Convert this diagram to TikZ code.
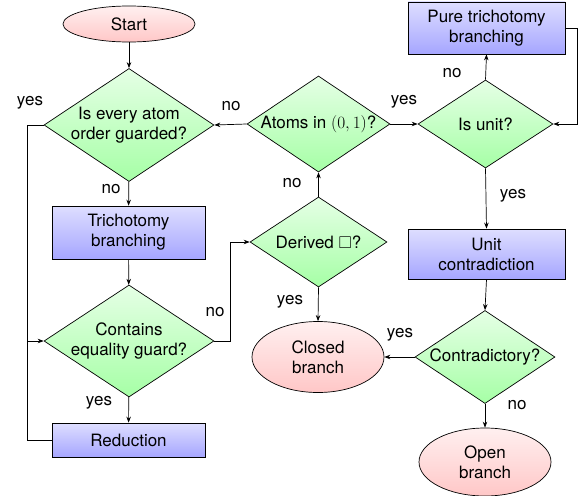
\documentclass[tikz,border=0pt]{standalone}
\usepackage{amssymb}
\usepackage{fontspec}
\setmainfont{TeX Gyre Heros}
\usetikzlibrary{shapes.geometric,arrows.meta}
\begin{document}
\begin{tikzpicture}[x=1pt,y=1pt,
  every node/.style={font=\fontsize{17}{20}\selectfont},
  term/.style={ellipse, draw, line width=0.7pt, inner sep=0pt, top color=red!6, bottom color=red!22},
  proc/.style={rectangle, draw, line width=0.7pt, inner sep=0pt, top color=blue!13, bottom color=blue!35},
  dec/.style={diamond, draw, line width=0.7pt, inner sep=0pt, top color=green!10, bottom color=green!35},
  txt/.style={align=center, inner sep=0pt},
  lbl/.style={inner sep=0pt},
  conn/.style={draw, line width=0.7pt, -{Stealth[length=6pt,width=4.5pt]}},
  plain/.style={draw, line width=0.7pt}]
\useasboundingbox (0,0) rectangle (583,-495);

\node[term, minimum width=132, minimum height=36] (start) at (129,-24) {};
\node[txt] (startt) at (start) {Start};

\node[dec, minimum width=170, minimum height=113] (d1) at (129,-125) {};
\node[txt] (d1t) at (d1) {Is every atom\\order guarded?};

\node[proc, minimum width=153, minimum height=53] (tri) at (128.5,-232.5) {};
\node[txt] (trit) at (tri) {Trichotomy\\branching};

\node[dec, minimum width=170, minimum height=112] (d2) at (129,-341) {};
\node[txt] (d2t) at (d2) {Contains\\equality guard?};

\node[proc, minimum width=153, minimum height=34] (red) at (128.5,-440) {};
\node[txt] (redt) at (red) {Reduction};

\node[dec, minimum width=143, minimum height=96] (atoms) at (318.5,-124) {};
\node[txt] (atomst) at (atoms) {Atoms in $(0,1)$?};

\node[dec, minimum width=135, minimum height=88] (unit) at (485.5,-124) {};
\node[txt] (unitt) at (unit) {Is unit?};

\node[proc, minimum width=157, minimum height=52] (pure) at (486.5,-28) {};
\node[txt] (puret) at (pure) {Pure trichotomy\\branching};

\node[proc, minimum width=157, minimum height=50] (uc) at (486.5,-254) {};
\node[txt] (uct) at (uc) {Unit\\contradiction};

\node[dec, minimum width=137, minimum height=90] (der) at (318.5,-242) {};
\node[txt] (dert) at (der) {Derived $\square$?};

\node[term, minimum width=132, minimum height=71] (closed) at (318,-357) {};
\node[txt] (closedt) at (closed) {Closed\\branch};

\node[dec, minimum width=140, minimum height=93] (contra) at (485,-357) {};
\node[txt] (contrat) at (contra) {Contradictory?};

\node[term, minimum width=132, minimum height=68] (open) at (485,-462) {};
\node[txt] (opent) at (open) {Open\\branch};

\coordinate (cl1) at (27,-125);
\coordinate (cl2) at (27,-440);
\coordinate (cr1) at (230,-341);
\coordinate (cr2) at (577,-28);

\path[conn] (start) -- (d1);
\path[conn] (d1) -- (tri);
\path[conn] (tri) -- (d2);
\path[conn] (d2) -- (red);
\path[conn] (d1.west) -- (cl1) |- (d2.west);
\path[plain] (red.west) -- (cl2) -- (cl2 |- d2.west);
\path[conn] (atoms.west) -- (d1.east);
\path[conn] (atoms.east) -- (unit.west);
\path[conn] (unit.north) -- (pure.south);
\path[conn] (pure.east) -- (cr2) |- (unit.east);
\path[conn] (unit.south) -- (uc.north);
\path[conn] (uc.south) -- (contra.north);
\path[conn] (contra.west) -- (closed.east);
\path[conn] (contra.south) -- (open.north);
\path[conn] (d2.east) -- (cr1) |- (der.west);
\path[conn] (der.south) -- (closed.north);
\path[conn] (der.north) -- (atoms.south);

\node[lbl] (l1) at (111,-189) {no};
\node[lbl] (l2) at (99,-403) {yes};
\node[lbl] (l3) at (30,-103) {yes};
\node[lbl] (l4) at (231,-106) {no};
\node[lbl] (l5) at (404,-102) {yes};
\node[lbl] (l6) at (452,-73) {no};
\node[lbl] (l7) at (513,-196) {yes};
\node[lbl] (l8) at (400,-335) {yes};
\node[lbl] (l9) at (517,-405) {no};
\node[lbl] (l10) at (215,-312) {no};
\node[lbl] (l11) at (290,-302) {yes};
\node[lbl] (l12) at (292,-183) {no};
\end{tikzpicture}
\end{document}
